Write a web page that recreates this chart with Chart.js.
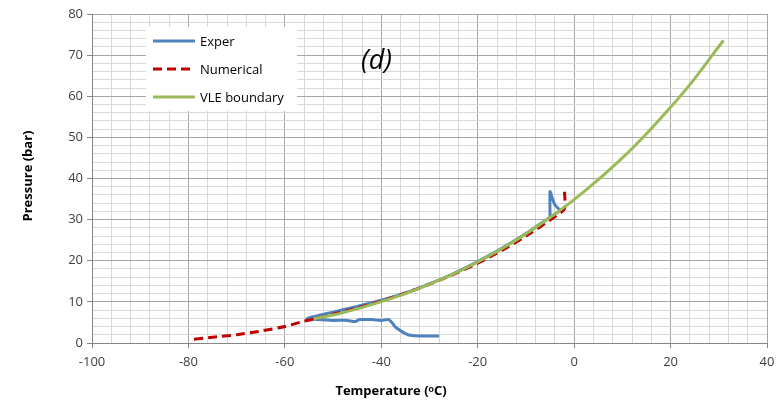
<!DOCTYPE html>
<html>
<head>
<meta charset="utf-8">
<script src="https://cdn.jsdelivr.net/npm/chart.js@4/dist/chart.umd.min.js"></script>
<style>
  html, body { margin: 0; padding: 0; background: #fff; }
  #wrap { width: 782px; height: 400px; }
</style>
</head>
<body>
<div id="wrap"><canvas id="myChart" width="782" height="400"></canvas></div>
<script>
// Exper (blue)
var experTemp = [-5, -5, -4.6, -4, -3, -5, -10, -15, -20, -25, -30, -35, -40, -45, -50, -53, -55.5,
  -53, -50, -47, -45.5, -44.5, -42, -40, -38.5, -37.8, -37, -36, -35, -34, -32, -28];
var experPress = [30.8, 36.8, 35.4, 33.6, 32.2, 30.6, 26.6, 23.0, 19.8, 16.9, 14.4, 12.2, 10.4, 8.9, 7.5, 6.7, 6.0,
  5.7, 5.5, 5.5, 5.2, 5.7, 5.7, 5.5, 5.7, 5.0, 3.8, 3.0, 2.3, 1.9, 1.7, 1.7];

// Numerical (red dashed)
var numTemp = [-2, -2, -5, -10, -15, -20, -25, -30, -35, -40, -45, -50, -53, -56, -60, -65, -70, -75, -79];
var numPress = [36.8, 32.6, 29.9, 26.0, 22.5, 19.4, 16.7, 14.3, 12.1, 10.2, 8.5, 7.0, 6.1, 5.3, 4.0, 2.9, 2.0, 1.4, 0.9];

// VLE boundary (green)
var vleTemp = [-54, -50, -45, -40, -35, -30, -25, -20, -15, -10, -5, 0, 5, 10, 15, 20, 25, 30, 31];
var vlePress = [5.9, 6.8, 8.3, 10.05, 12.0, 14.3, 16.8, 19.7, 22.9, 26.5, 30.5, 34.85, 39.7, 45.0, 50.9, 57.3, 64.3, 72.1, 73.6];

function pts(xs, ys) {
  return xs.map(function (x, i) { return { x: x, y: ys[i] }; });
}

var tickFont = { family: "'Open Sans', sans-serif", size: 13 };

var overlay = {
  id: "overlay",
  afterDraw: function (chart) {
    var c = chart.ctx;
    var xs = chart.scales.x, ys = chart.scales.y;
    c.save();
    // panel label
    c.fillStyle = "#000";
    c.font = "italic 27px 'Open Sans', sans-serif";
    c.textAlign = "center";
    c.textBaseline = "middle";
    c.fillText("(d)", xs.getPixelForValue(-41), ys.getPixelForValue(68.4));

    // axis titles
    c.font = "bold 13px 'Open Sans', sans-serif";
    c.fillStyle = "#000";
    c.fillText("Temperature (\u1D52C)", 391, 391);
    c.save();
    c.translate(28, 176);
    c.rotate(-Math.PI / 2);
    c.fillText("Pressure (bar)", 0, 0);
    c.restore();

    // legend box
    c.fillStyle = "#fff";
    c.fillRect(146, 27, 151, 84);
    c.font = "13px 'Open Sans', sans-serif";
    c.textAlign = "left";
    var rows = [41, 69, 97];
    chart.data.datasets.forEach(function (ds, i) {
      c.strokeStyle = ds.borderColor;
      c.lineWidth = ds.borderWidth;
      c.setLineDash(ds.borderDash || []);
      c.beginPath();
      c.moveTo(153, rows[i]);
      c.lineTo(195, rows[i]);
      c.stroke();
      c.setLineDash([]);
      c.fillStyle = "#000";
      c.fillText(ds.label, 200, rows[i] + 1);
    });
    c.restore();
  }
};

var ctx = document.getElementById("myChart").getContext("2d");
var myChart = new Chart(ctx, {
  type: "scatter",
  data: {
    datasets: [
      {
        label: "Exper",
        data: pts(experTemp, experPress),
        showLine: true,
        borderColor: "#4F81BD",
        borderWidth: 3,
        pointRadius: 0,
        tension: 0.2,
        order: 3,
      },
      {
        label: "Numerical",
        data: pts(numTemp, numPress),
        showLine: true,
        borderColor: "#C00000",
        borderWidth: 3,
        borderDash: [9, 5],
        pointRadius: 0,
        tension: 0.2,
        order: 2,
      },
      {
        label: "VLE boundary",
        data: pts(vleTemp, vlePress),
        showLine: true,
        borderColor: "#9BBB59",
        borderWidth: 3,
        pointRadius: 0,
        tension: 0.3,
        order: 1,
      },
    ],
  },
  options: {
    responsive: false,
    animation: false,
    layout: { padding: { left: 0, right: 15, top: 14, bottom: 0 } },
    plugins: {
      legend: { display: false },
      tooltip: { enabled: false },
    },
    scales: {
      x: {
        type: "linear",
        min: -100,
        max: 40,
        afterFit: function (s) { s.height = 57; },
        border: { color: "#868686" },
        grid: {
          color: function (c) { return c.tick && c.tick.value % 20 === 0 ? "#a6a6a6" : "#d9d9d9"; },
          tickColor: function (c) { return c.tick && c.tick.value % 20 === 0 ? "#868686" : "rgba(0,0,0,0)"; },
          tickLength: 5,
        },
        ticks: {
          stepSize: 4,
          autoSkip: false,
          maxRotation: 0,
          padding: 6,
          color: "#404040",
          font: tickFont,
          callback: function (v) { return v % 20 === 0 ? v : ""; },
        },
      },
      y: {
        min: 0,
        max: 80,
        afterFit: function (s) { s.width = 92; },
        border: { color: "#868686" },
        grid: {
          color: function (c) { return c.tick && c.tick.value % 10 === 0 ? "#a6a6a6" : "#d9d9d9"; },
          tickColor: function (c) { return c.tick && c.tick.value % 10 === 0 ? "#868686" : "rgba(0,0,0,0)"; },
          tickLength: 5,
        },
        ticks: {
          stepSize: 2,
          autoSkip: false,
          padding: 4,
          color: "#404040",
          font: tickFont,
          callback: function (v) { return v % 10 === 0 ? v : ""; },
        },
      },
    },
  },
  plugins: [overlay],
});
</script>
</body>
</html>
